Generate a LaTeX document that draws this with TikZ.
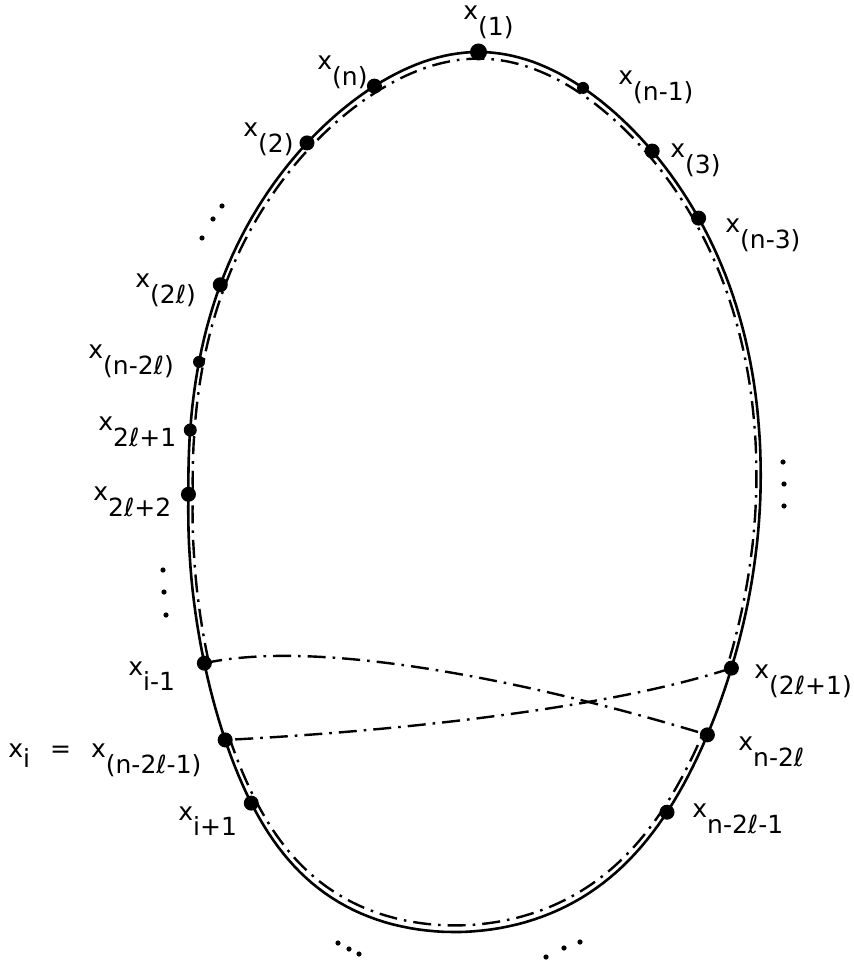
\documentclass[tikz,border=0pt]{standalone}
\usepackage{fontspec}
\setmainfont{DejaVu Sans}
\newcommand\xsb[2][8pt]{x\raisebox{-#1}{#2}}
\begin{document}
\begin{tikzpicture}[x=0.5pt,y=-0.5pt,
  declare function={
    ey(\t)=492-440*cos(\t);
    ecx(\t)=474.5+12*cos(\t)-8*cos(\t)^2;
    en(\t)=2-0.6*cos(\t)^3+0.2*cos(\t)^4;
    ew(\t)=286*sqrt(max(0,1-pow(abs(cos(\t))*0.999+0.001,en(\t))));
    exr(\t)=ecx(\t)+ew(\t);
    exl(\t)=ecx(\t)-ew(\t)-20*max(0,cos(\t))*sin(\t)^2;
  },
  solid egg/.style={line width=1.3pt},
  dd/.style={line width=1.2pt,dash pattern=on 9pt off 3.5pt on 1.3pt off 3.5pt},
  pt/.style={circle,fill=black,inner sep=0pt,minimum size=#1},
  pt/.default=7.5pt,
  lbl/.style={inner sep=0pt,anchor=base west,font=\fontsize{12.5}{15}\selectfont},
  ed/.style={circle,fill=black,inner sep=0pt,minimum size=2.6pt}]
\useasboundingbox (0,0) rectangle (853,962);
% solid egg
\draw[solid egg] plot[domain=0:180,samples=120] ({exr(\x)},{ey(\x)})
  -- plot[domain=180:0,samples=120] ({exl(\x)},{ey(\x)}) -- cycle;
% dash-dot tour, following the egg slightly inside
\begin{scope}[scale around={0.985:(474,492)}]
\draw[dd] plot[domain=112.9:0,samples=90] ({exl(\x)},{ey(\x)})
  -- plot[domain=0:113.6,samples=90] ({exr(\x)},{ey(\x)});
\draw[dd] plot[domain=124.3:180,samples=60] ({exl(\x)},{ey(\x)})
  -- plot[domain=180:123.5,samples=60] ({exr(\x)},{ey(\x)});
\end{scope}
% dots
\node[pt=8.5pt] (d1) at ({exr(0)},{ey(0)}) {};
\node[pt] (dn) at ({exl(22.7)},{ey(22.7)}) {};
\node[pt] (d2) at ({exl(37.5)},{ey(37.5)}) {};
\node[pt=6pt] (dn1) at ({exr(23.3)},{ey(23.3)}) {};
\node[pt] (d3) at ({exr(39.2)},{ey(39.2)}) {};
\node[pt] (dn3) at ({exr(51.5)},{ey(51.5)}) {};
\node[pt] (d2l) at ({exl(61.9)},{ey(61.9)}) {};
\node[pt=6pt] (dn2l) at ({exl(72.8)},{ey(72.8)}) {};
\node[pt=6.5pt] (d2l1) at ({exl(81.9)},{ey(81.9)}) {};
\node[pt] (d2l2) at ({exl(90.3)},{ey(90.3)}) {};
\node[pt] (dim1) at ({exl(112.9)},{ey(112.9)}) {};
\node[pt] (di) at ({exl(124.3)},{ey(124.3)}) {};
\node[pt] (dip1) at ({exl(135)},{ey(135)}) {};
\node[pt] (dp2l1) at ({exr(113.6)},{ey(113.6)}) {};
\node[pt] (dnm2l) at ({exr(123.5)},{ey(123.5)}) {};
\node[pt] (dnm2l1) at ({exr(136.7)},{ey(136.7)}) {};
% crossing links
\draw[dd] (dp2l1.center) .. controls (620,705) and (420,730) .. (di.center);
\draw[dd] (dim1.center) .. controls (330,636) and (560,690) .. (dnm2l.center);
% labels
\node[lbl] (l1) at (463,20) {\xsb{(1)}};
\node[lbl] (ln) at (317,70) {\xsb{(n)}};
\node[lbl] (l2) at (243,137) {\xsb{(2)}};
\node[lbl] (ln1) at (618,85) {\xsb{(n-1)}};
\node[lbl] (l3) at (670,158) {\xsb{(3)}};
\node[lbl] (ln3) at (725,233) {\xsb{(n-3)}};
\node[lbl] (l2l) at (135,288) {\xsb{(2ℓ)}};
\node[lbl] (ln2l) at (88,358) {\xsb{(n-2ℓ)}};
\node[lbl] (l2l1) at (98,430) {\xsb{2ℓ+1}};
\node[lbl] (l2l2) at (93,500) {\xsb{2ℓ+2}};
\node[lbl] (lim1) at (128,675) {\xsb[7.5pt]{i-1}};
\node[lbl] (li) at (8,757) {\xsb[5pt]{i}\hspace{0.8em}=\hspace{0.8em}\xsb{(n-2ℓ-1)}};
\node[lbl] (lip1) at (178,820) {\xsb[7.5pt]{i+1}};
\node[lbl] (lp2l1) at (754,678) {\xsb{(2ℓ+1)}};
\node[lbl] (lnm2l) at (738,750) {\xsb{n-2ℓ}};
\node[lbl] (lnm2l1) at (692,817) {\xsb{n-2ℓ-1}};
% ellipsis dots
\node[ed] (e1) at (202,238) {}; \node[ed] (e2) at (213,219) {}; \node[ed] (e3) at (222,206) {};
\node[ed] (e4) at (783,462) {}; \node[ed] (e5) at (784,484) {}; \node[ed] (e6) at (784,506) {};
\node[ed] (e7) at (163,570) {}; \node[ed] (e8) at (164,592) {}; \node[ed] (e9) at (166,615) {};
\node[ed] (e10) at (338,943) {}; \node[ed] (e11) at (349,949) {}; \node[ed] (e12) at (359,954) {};
\node[ed] (e13) at (546,957) {}; \node[ed] (e14) at (564,948) {}; \node[ed] (e15) at (580,942) {};
\end{tikzpicture}
\end{document}
